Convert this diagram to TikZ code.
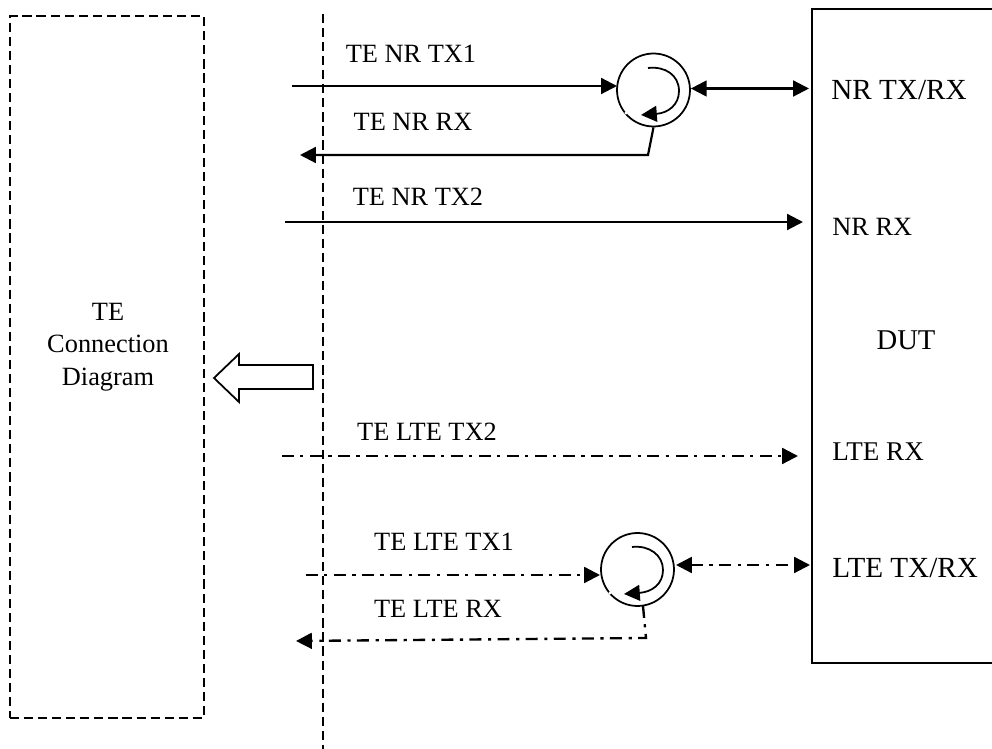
\documentclass[tikz,border=0pt]{standalone}
\usepackage{fontspec}
\setmainfont{Liberation Serif}
\usetikzlibrary{arrows.meta}
\tikzset{
  tip/.style={-{Triangle[length=9pt,width=9pt]}},
  bothtips/.style={{Triangle[length=9pt,width=9pt]}-{Triangle[length=9pt,width=9pt]}},
  wire/.style={line width=1.25pt},
  dashdot/.style={line width=1.35pt,dash pattern=on 6.8pt off 3.6pt on 1.8pt off 3.8pt},
  sepline/.style={line width=0.9pt,dash pattern=on 5.2pt off 2.8pt},
  circulator/.style={draw,circle,line width=1pt,minimum size=1.46cm,inner sep=0pt},
  label/.style={inner sep=0pt,font=\fontsize{15pt}{18.6pt}\selectfont},
}
\begin{document}
\begin{tikzpicture}[x=0.02cm,y=-0.02cm]
\useasboundingbox (0,0) rectangle (992,749);
\begin{scope}
\clip (0,0) rectangle (992,749);
\node[draw,sepline,minimum width=3.88cm,minimum height=14.04cm,inner sep=0pt] (te) at (107,367) {};
\node[draw,line width=1.1pt,minimum width=4cm,minimum height=13.08cm,inner sep=0pt,anchor=north west] (dut) at (811,8) {};
\end{scope}
\coordinate (sepa) at (323,14);
\coordinate (sepb) at (323,749);
\draw[sepline] (sepa) -- (sepb);
% circulators
\node[circulator] (nrc) at (653.5,90) {};
\node[circulator] (ltec) at (637.5,569.5) {};
\fill[white] (626,113) circle (1.6);
\fill[white] (610,593) circle (1.6);
\coordinate (nrarca) at (648,68);
\coordinate (nrarcb) at (641,115);
\draw[line width=1pt,tip] (nrarca) .. controls (665,66) and (679,75) .. (679,91) .. controls (679,105) and (668,113) .. (nrarcb);
\coordinate (ltearca) at (632,547);
\coordinate (ltearcb) at (624,594);
\draw[line width=1pt,tip] (ltearca) .. controls (649,545) and (663,555) .. (663,570) .. controls (663,584) and (652,592) .. (ltearcb);
% NR side
\coordinate (nrtxa) at (292,86);
\coordinate (nrtxb) at (617,86);
\draw[wire,tip] (nrtxa) -- (nrtxb);
\coordinate (nrdut) at (809,88.5);
\draw[wire,bothtips] (nrc.east |- nrdut) -- (nrdut);
\coordinate (nrrxa) at (648,155);
\coordinate (nrrxb) at (300,155);
\draw[wire,tip] (nrc.south) -- (nrrxa) -- (nrrxb);
\coordinate (nrtwoa) at (285,222);
\coordinate (nrtwob) at (803,222);
\draw[wire,tip] (nrtwoa) -- (nrtwob);
% LTE side
\coordinate (ltetwoa) at (282,456);
\coordinate (ltetwob) at (798,456);
\draw[dashdot,tip] (ltetwoa) -- (ltetwob);
\coordinate (ltetxa) at (306,575);
\coordinate (ltetxb) at (600,575);
\draw[dashdot,tip] (ltetxa) -- (ltetxb);
\coordinate (ltedut) at (810,565);
\coordinate (lteca) at (676,565);
\draw[dashdot,bothtips] (lteca) -- (ltedut);
\coordinate (lterxa) at (643,606);
\coordinate (lterxb) at (646,638);
\coordinate (lterxc) at (296,641);
\draw[dashdot,tip] (lterxa) -- (lterxb) -- (lterxc);
% block arrow
\draw[line width=1pt] (214,378) -- (239,354) -- (239,365) -- (313,365) -- (313,389) -- (239,389) -- (239,402) -- cycle;
% labels
\node[label,align=center] (tename) at (108,347) {TE\\Connection\\Diagram};
\node[label] (ntx1) at (411,54) {TE NR TX1};
\node[label] (nrx) at (413,122) {TE NR RX};
\node[label] (ntx2) at (418,197) {TE NR TX2};
\node[label] (ltx2) at (427,432) {TE LTE TX2};
\node[label] (ltx1) at (444,542) {TE LTE TX1};
\node[label] (lrx) at (438,609) {TE LTE RX};
\node[label,anchor=west,font=\fontsize{16.6pt}{18pt}\selectfont] (dtr) at (831,90) {NR TX/RX};
\node[label,anchor=west] (drx) at (832,227) {NR RX};
\node[label,font=\fontsize{16.3pt}{18pt}\selectfont] (dname) at (906,340) {DUT};
\node[label,anchor=west,font=\fontsize{15.4pt}{18pt}\selectfont] (dlrx) at (832,452) {LTE RX};
\node[label,anchor=west,font=\fontsize{16.6pt}{18pt}\selectfont] (dltr) at (832,568) {LTE TX/RX};
\end{tikzpicture}
\end{document}
